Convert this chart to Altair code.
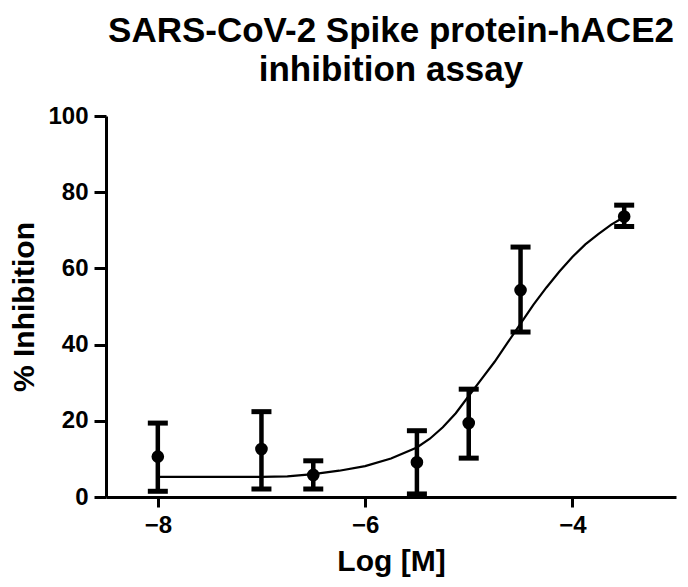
import altair as alt
import pandas as pd

# Measured points (log molar concentration, mean % inhibition, error bar limits)
log_conc = [-8.0, -7.0, -6.5, -5.5, -5.0, -4.5, -3.5]
mean_inh = [10.6, 12.6, 5.8, 9.1, 19.4, 54.3, 73.6]
err_low = [1.5, 2.1, 2.1, 0.8, 10.2, 43.3, 71.0]
err_high = [19.4, 22.4, 9.5, 17.4, 28.3, 65.6, 76.6]

# Fitted curve
curve_x = [-8.0, -7.5, -7.0, -6.75, -6.5, -6.25, -6.0, -5.75, -5.5, -5.375,
           -5.25, -5.125, -5.0, -4.875, -4.75, -4.625, -4.5, -4.375, -4.25,
           -4.125, -4.0, -3.875, -3.75, -3.625, -3.5]
curve_y = [5.3, 5.3, 5.3, 5.4, 6.0, 6.9, 8.1, 10.1, 13.0, 15.3,
           18.3, 22.0, 26.5, 31.0, 35.5, 40.5, 45.5, 50.5, 55.0,
           59.2, 63.0, 66.3, 69.0, 71.5, 73.5]

x_ticks = [-8, -6, -4]
y_ticks = [0, 20, 40, 60, 80, 100]

pts = pd.DataFrame({"x": log_conc, "m": mean_inh, "lo": err_low, "hi": err_high})
curve = pd.DataFrame({"x": curve_x, "y": curve_y})

FONT = "Liberation Sans"

xscale = alt.Scale(domain=[-8.5, -3], nice=False, zero=False)
yscale = alt.Scale(domain=[0, 100], nice=False)

x_axis = alt.Axis(values=x_ticks, title="Log [M]", grid=False, tickSize=10,
                  tickWidth=3, domainWidth=3, domainColor="black", tickColor="black",
                  labelFont=FONT, labelFontSize=24, labelFontWeight="bold",
                  labelColor="black", labelPadding=6,
                  titleFont=FONT, titleFontSize=30, titleFontWeight="bold",
                  titleColor="black", titlePadding=9, format="d")
y_axis = alt.Axis(values=y_ticks, title="% Inhibition", grid=False, tickSize=12,
                  tickWidth=3, domainWidth=3, domainColor="black", tickColor="black",
                  labelFont=FONT, labelFontSize=24, labelFontWeight="bold",
                  labelColor="black", labelPadding=6,
                  titleFont=FONT, titleFontSize=30, titleFontWeight="bold",
                  titleColor="black", titlePadding=8, format="d")

base = alt.Chart(pts)

line = alt.Chart(curve).mark_line(color="black", strokeWidth=2.2).encode(
    x=alt.X("x:Q", scale=xscale, axis=x_axis),
    y=alt.Y("y:Q", scale=yscale, axis=y_axis),
)

bars = base.mark_rule(color="black", strokeWidth=4.5).encode(
    x=alt.X("x:Q", scale=xscale),
    y=alt.Y("lo:Q", scale=yscale),
    y2="hi:Q",
)

caps_hi = base.mark_tick(color="black", size=20, thickness=5, orient="horizontal",
                         opacity=1).encode(
    x=alt.X("x:Q", scale=xscale),
    y=alt.Y("hi:Q", scale=yscale),
)
caps_lo = base.mark_tick(color="black", size=20, thickness=5, orient="horizontal",
                         opacity=1).encode(
    x=alt.X("x:Q", scale=xscale),
    y=alt.Y("lo:Q", scale=yscale),
)

dots = base.mark_point(filled=True, shape="circle", size=160, color="black",
                       opacity=1).encode(
    x=alt.X("x:Q", scale=xscale),
    y=alt.Y("m:Q", scale=yscale),
)

chart = alt.layer(line, bars, caps_hi, caps_lo, dots).properties(
    width=570,
    height=381,
    title=alt.TitleParams(
        text=["SARS-CoV-2 Spike protein-hACE2", "inhibition assay"],
        font=FONT, fontSize=35, fontWeight="bold", color="black",
        anchor="middle", lineHeight=39, offset=16,
    ),
    autosize=alt.AutoSizeParams(type="none"),
    padding={"left": 98, "top": 108, "right": 4, "bottom": 90},
).configure_view(stroke=None)

chart.save("out.html", embed_options={"renderer": "svg", "actions": False})
